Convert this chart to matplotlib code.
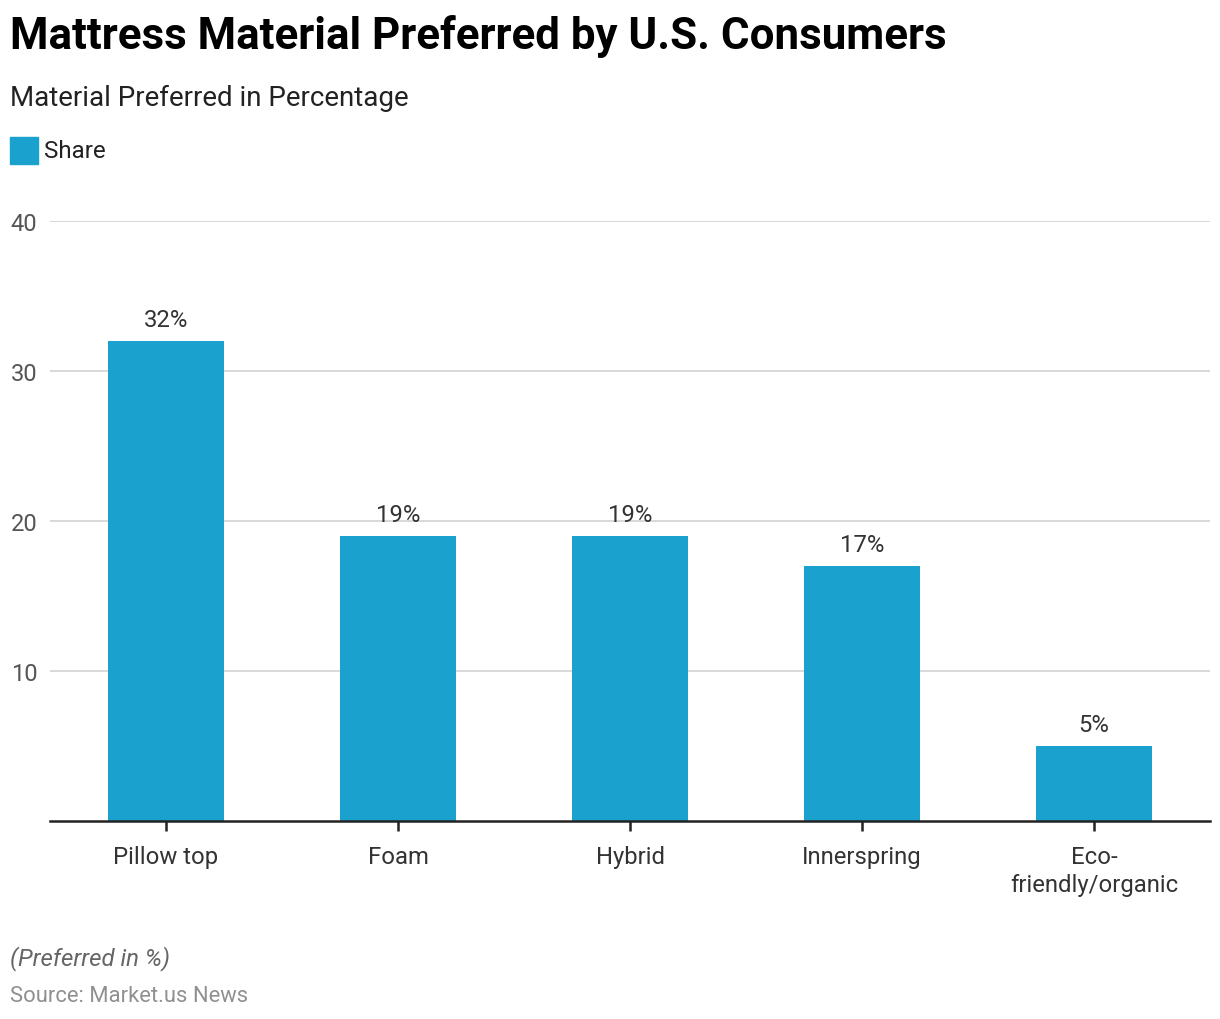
import matplotlib
matplotlib.use("Agg")
import matplotlib.pyplot as plt
from matplotlib.patches import Rectangle

categories = ["Pillow top", "Foam", "Hybrid", "Innerspring", "Eco-\nfriendly/organic"]
shares = [32, 19, 19, 17, 5]
yticks = [10, 20, 30, 40]

title = "Mattress Material Preferred by U.S. Consumers"
subtitle = "Material Preferred in Percentage"
legend_label = "Share"
footnote = "(Preferred in %)"
source = "Source: Market.us News"

plt.rcParams['font.family'] = ['Roboto', 'DejaVu Sans']
BAR = "#1ba1ce"

W, H = 1220, 1020
fig = plt.figure(figsize=(W/100, H/100), dpi=100)

def fx(px): return px / W
def fy(py): return 1 - py / H

ax = fig.add_axes([fx(50), fy(822), fx(1210) - fx(50), fy(222) - fy(822)])
x = list(range(len(categories)))
bars = ax.bar(x, shares, width=0.5, color=BAR, zorder=3)
ax.set_xlim(-0.5, len(categories) - 0.5)
ax.set_ylim(0, 40)
ax.set_yticks(yticks)
ax.set_yticklabels([str(v) for v in yticks])
ax.yaxis.grid(True, color="#d6d6d6", linewidth=1.3, zorder=0)
ax.set_axisbelow(True)
for s in ["top", "right", "left"]:
    ax.spines[s].set_visible(False)
ax.spines["bottom"].set_color("#222222")
ax.spines["bottom"].set_linewidth(1.8)
ax.spines["bottom"].set_zorder(4)
ax.tick_params(axis="y", length=0, pad=9, labelsize=17, labelcolor="#555555")
ax.tick_params(axis="x", length=7, width=1.8, color="#222222", pad=10.5,
               labelsize=17.2, labelcolor="#333333")
ax.set_xticks(x)
ax.set_xticklabels(categories, linespacing=1.25)
for lab in ax.get_yticklabels():
    lab.set_horizontalalignment("right")

for xi, v in zip(x, shares):
    ax.annotate(f"{v}%", (xi, v), xytext=(0, 7), textcoords="offset points",
                ha="center", va="bottom", fontsize=17.2, color="#333333")

fig.text(fx(10), fy(36), title, fontsize=31.6, fontweight="bold", color="#000000",
         ha="left", va="center")
fig.text(fx(10), fy(98), subtitle, fontsize=20, color="#222222", ha="left", va="center")
fig.patches.append(Rectangle((fx(10), fy(165)), fx(28), fy(138) - fy(165),
                             transform=fig.transFigure, color=BAR, figure=fig))
fig.text(fx(44), fy(151), legend_label, fontsize=17.4, color="#222222", ha="left", va="center")
fig.text(fx(10), fy(959), footnote, fontsize=17.3, style="italic", color="#666666",
         ha="left", va="center")
fig.text(fx(10), fy(997), source, fontsize=15.8, color="#909090", ha="left", va="center")

fig.savefig("out.png", dpi=100, facecolor="white")
